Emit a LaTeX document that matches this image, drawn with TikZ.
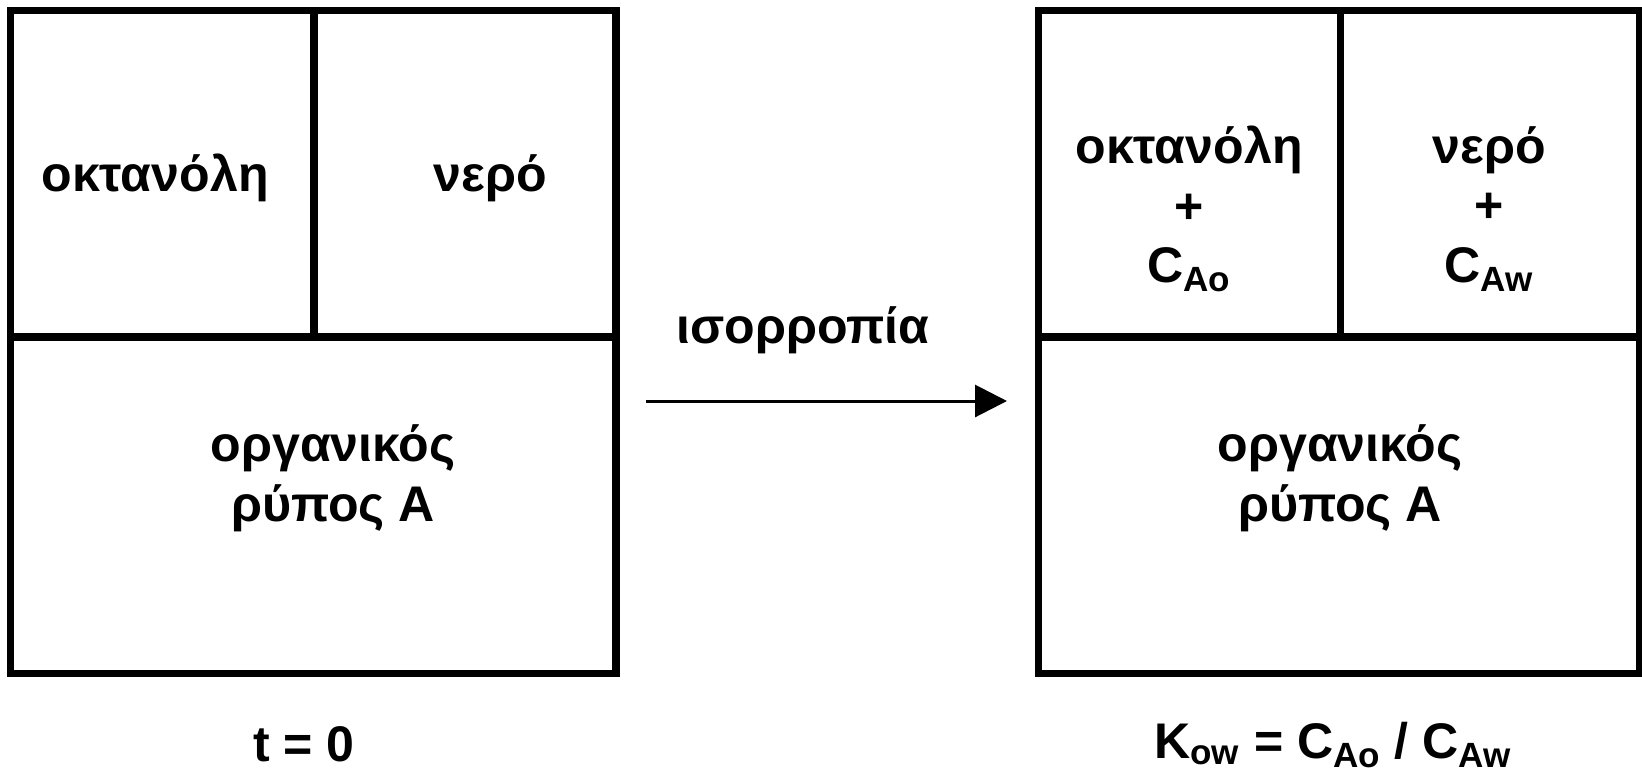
\documentclass[tikz,border=0pt]{standalone}
\usepackage{fontspec}
\setmainfont{Liberation Sans}
\usetikzlibrary{arrows.meta, positioning}

\tikzset{
  wall/.style={line width=4pt, line cap=rect},
  lbl/.style={font=\bfseries\fontsize{28.5}{34}\selectfont, align=center, inner sep=0pt},
}

\begin{document}
\begin{tikzpicture}[x=0.02cm, y=-0.02cm]
        \useasboundingbox (0,0) rectangle (1642,775);

        % t = 0
        \draw[wall] (10.5,10.5) rectangle (616,673);
        \draw[wall] (10.5,337) -- (616,337);
        \draw[wall] (314,10.5) -- (314,337);
        \node[lbl] (oct1) at (155,178) {οκτανόλη};
        \node[lbl] (ner1) at (490,178) {νερό};
        \node[lbl] (org1) at (333,478) {οργανικός\\ρύπος Α};
        \node[lbl, anchor=base] (t0) at (304,761) {t = 0};

        % isorropia
        \coordinate (a) at (646,401);
        \coordinate (b) at (1007,401);
        \draw[line width=1.7pt, -{Triangle[length=0.64cm, width=0.64cm]}] (a) -- (b);
        \node[lbl] (iso) at (803,330) {ισορροπία};

        % equilibrium
        \draw[wall] (1038,10.5) rectangle (1639,673);
        \draw[wall] (1038,337) -- (1639,337);
        \draw[wall] (1340,10.5) -- (1340,337);
        \node[lbl] (oct2) at (1189,209) {οκτανόλη\\+\\C\textsubscript{Ao}};
        \node[lbl] (ner2) at (1489,209) {νερό\\+\\C\textsubscript{Aw}};
        \node[lbl] (org2) at (1340,478) {οργανικός\\ρύπος Α};
        \node[lbl, anchor=base] (kow) at (1333,758) {K\textsubscript{ow} = C\textsubscript{Ao} / C\textsubscript{Aw}};
\end{tikzpicture}
\end{document}
